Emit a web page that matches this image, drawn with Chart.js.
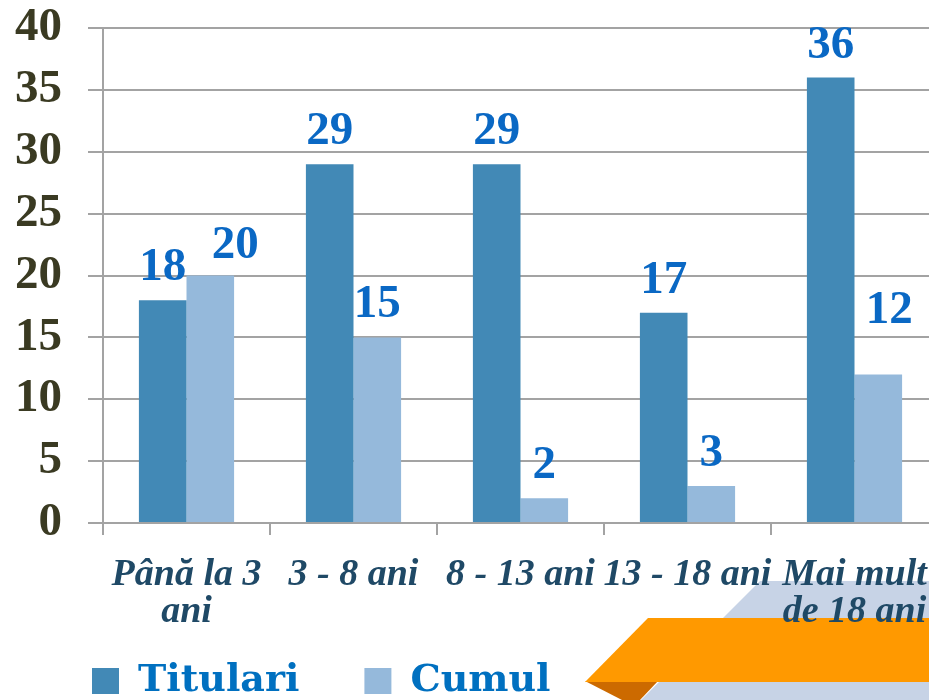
<!DOCTYPE html>
<html>
<head>
<meta charset="utf-8">
<script src="https://cdn.jsdelivr.net/npm/chart.js@4"></script>
<style>
  html, body { margin: 0; padding: 0; background: #ffffff; overflow: hidden; width: 929px; height: 700px; }
  #wrap { position: absolute; left: 0; top: 0; width: 940px; height: 746px; }
</style>
</head>
<body>
<div id="wrap"><canvas id="c" width="940" height="746"></canvas></div>
<script>
// ---- data ----
const categories = [["Până la 3", "ani"], "3 - 8 ani", "8 - 13 ani", "13 - 18 ani", ["Mai mult", "de 18 ani"]];
const seriesNames = ["Titulari", "Cumul"];
const titulari = [18, 29, 29, 17, 36];
const cumul = [20, 15, 2, 3, 12];
const yTicks = [0, 5, 10, 15, 20, 25, 30, 35, 40];

// ---- styles ----
const darkBlue = '#4289B6';
const lightBlue = '#95B9DB';
const gridColor = '#A3A3A3';
const labelBlue = '#0A68C4';
// manual nudges of a few value labels (dataset index, point index) -> [dx, dy], as in the original
const labelNudges = { '1-0': [25, 2], '1-4': [11, -32] };

const decorPlugin = {
  id: 'decor',
  afterLayout(chart) {
    const lg = chart.legend;
    if (lg) {
      lg.left += 27; lg.right += 27;
      lg.top -= 36; lg.bottom -= 36;
    }
  },
  beforeDraw(chart) {
    const ctx = chart.ctx;
    ctx.save();
    ctx.fillStyle = '#C7D3E6';
    ctx.beginPath();
    ctx.moveTo(760, 581); ctx.lineTo(940, 581); ctx.lineTo(940, 746); ctx.lineTo(595, 746);
    ctx.closePath(); ctx.fill();
    ctx.fillStyle = '#CC6A00';
    ctx.beginPath();
    ctx.moveTo(585, 681); ctx.lineTo(658, 681); ctx.lineTo(640, 700); ctx.lineTo(622, 700);
    ctx.closePath(); ctx.fill();
    ctx.fillStyle = '#FF9900';
    ctx.beginPath();
    ctx.moveTo(648, 618); ctx.lineTo(940, 618); ctx.lineTo(940, 682); ctx.lineTo(585, 682);
    ctx.closePath(); ctx.fill();
    ctx.restore();
  }
};

const valueLabelPlugin = {
  id: 'valueLabels',
  afterDatasetsDraw(chart) {
    const ctx = chart.ctx;
    ctx.save();
    ctx.font = 'bold 47px "Liberation Serif", "Times New Roman", serif';
    ctx.fillStyle = labelBlue;
    ctx.textAlign = 'center';
    ctx.textBaseline = 'alphabetic';
    chart.data.datasets.forEach((ds, di) => {
      const meta = chart.getDatasetMeta(di);
      meta.data.forEach((bar, i) => {
        const n = labelNudges[di + '-' + i] || [0, 0];
        ctx.fillText(String(ds.data[i]), bar.x + n[0], bar.y - 20 + n[1]);
      });
    });
    ctx.restore();
  }
};

new Chart(document.getElementById('c'), {
  type: 'bar',
  data: {
    labels: categories,
    datasets: [
      { label: seriesNames[0], data: titulari, backgroundColor: darkBlue, borderWidth: 0 },
      { label: seriesNames[1], data: cumul, backgroundColor: lightBlue, borderWidth: 0 }
    ]
  },
  options: {
    responsive: false,
    animation: false,
    events: [],
    layout: { padding: { left: 0, right: 2, top: 28, bottom: 0 } },
    datasets: { bar: { categoryPercentage: 0.57, barPercentage: 1.0 } },
    plugins: {
      tooltip: { enabled: false },
      legend: {
        position: 'bottom',
        align: 'start',
        labels: {
          boxWidth: 27,
          boxHeight: 26,
          padding: 65,
          color: '#0070C0',
          font: { family: '"DejaVu Serif", serif', size: 38, weight: 'bold' }
        }
      }
    },
    scales: {
      x: {
        offset: true,
        grid: { display: true, offset: true, drawOnChartArea: false, drawTicks: true, tickLength: 12, color: gridColor, lineWidth: 2 },
        border: { display: true, color: gridColor, width: 2 },
        ticks: {
          autoSkip: false, maxRotation: 0, minRotation: 0, padding: 22,
          color: '#1F4966',
          font: { family: '"Liberation Serif", "Times New Roman", serif', size: 38, style: 'italic', weight: 'bold', lineHeight: 0.97 }
        },
        afterFit(scale) {
          scale.height = 110;
          scale.paddingLeft = 0; scale.paddingRight = 0;
          scale.paddingTop = 0; scale.paddingBottom = 0;
        }
      },
      y: {
        min: 0, max: 40,
        afterBuildTicks(scale) { scale.ticks = yTicks.map(v => ({ value: v })); },
        grid: { display: true, drawTicks: true, tickLength: 15, color: gridColor, lineWidth: 2 },
        border: { display: true, color: gridColor, width: 2 },
        ticks: {
          padding: 26,
          color: '#3A3A22',
          font: { family: '"Liberation Serif", "Times New Roman", serif', size: 47, weight: 'bold', lineHeight: 1 }
        },
        afterFit(scale) {
          scale.width = 103;
          scale.paddingTop = 0; scale.paddingBottom = 0;
          scale.paddingLeft = 0; scale.paddingRight = 0;
        }
      }
    }
  },
  plugins: [decorPlugin, valueLabelPlugin]
});
</script>
</body>
</html>
